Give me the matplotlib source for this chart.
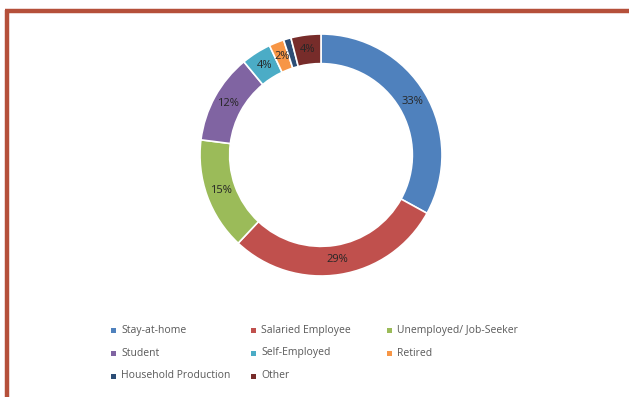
import numpy as np
import matplotlib.pyplot as plt
from matplotlib.lines import Line2D
from matplotlib.patches import Rectangle

# occupation breakdown (percent)
categories = ['Stay-at-home', 'Salaried Employee', 'Unemployed/ Job-Seeker', 'Student',
              'Self-Employed', 'Retired', 'Household Production', 'Other']
shares = [33, 29, 15, 12, 4, 2, 1, 4]
colors = ['#4F81BD', '#C0504D', '#9BBB59', '#8064A2',
          '#4BACC6', '#F79646', '#2C4D75', '#772C2A']

fig = plt.figure(figsize=(6.29, 3.97), dpi=100)
fig.patch.set_facecolor('white')
W, H = 629, 397

# frame lines (top and left)
border = '#B5503A'
fig.add_artist(Line2D([5 / W, 1], [1 - 11 / H, 1 - 11 / H], color=border, lw=3.2,
                      transform=fig.transFigure, solid_capstyle='butt'))
fig.add_artist(Line2D([7 / W, 7 / W], [0, 1 - 9.5 / H], color=border, lw=3.2,
                      transform=fig.transFigure, solid_capstyle='butt'))

# donut
cx, cy, r = 321, 155, 121
ax = fig.add_axes([(cx - r) / W, (H - cy - r) / H, 2 * r / W, 2 * r / H])
wedges, _ = ax.pie(shares, colors=colors, startangle=90, counterclock=False, radius=1,
                   wedgeprops=dict(width=0.245, edgecolor='white', linewidth=1.2))
ax.set_xlim(-1, 1)
ax.set_ylim(-1, 1)
ax.set_aspect('auto')
ax.axis('off')

for w, v in zip(wedges, shares):
    if v < 1.5:
        continue
    ang = np.deg2rad((w.theta1 + w.theta2) / 2)
    rr = 0.875
    ax.text(rr * np.cos(ang), rr * np.sin(ang), f'{v}%', ha='center', va='center',
            fontsize=8, color='#262626', family='Open Sans')

# legend laid out row by row, three columns
col_x = [113, 253, 389]
row_y = [330, 353, 376]
for i, (lab, c) in enumerate(zip(categories, colors)):
    x = col_x[i % 3]
    y = row_y[i // 3]
    fig.add_artist(Rectangle(((x - 2.5) / W, (H - y - 2.5) / H), 5 / W, 5 / H,
                             transform=fig.transFigure, color=c, lw=0))
    fig.text((x + 8) / W, 1 - y / H, lab, fontsize=7.5, color='#595959',
             va='center', ha='left', family='Open Sans')

fig.savefig('out.png', dpi=100)
